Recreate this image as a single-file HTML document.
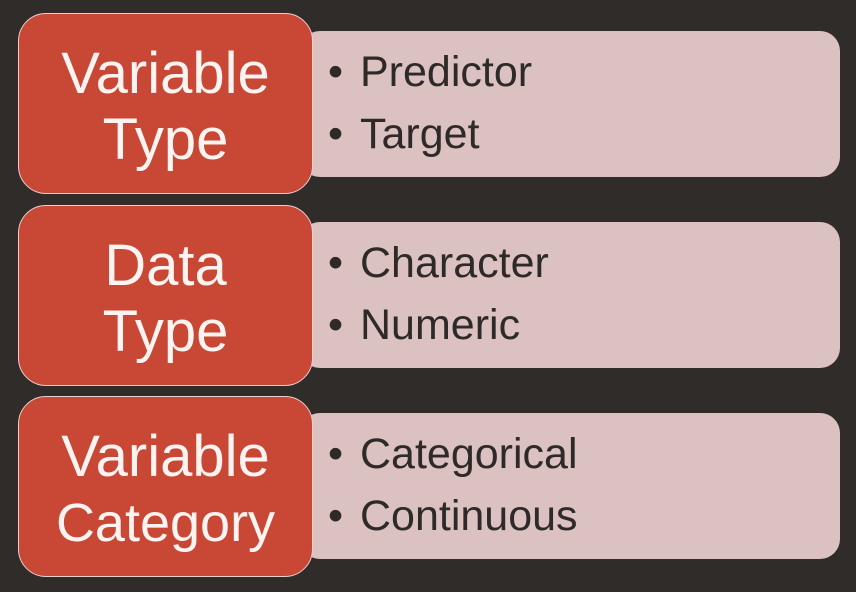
<!DOCTYPE html>
<html><head><style>
body{margin:0;width:856px;height:592px;background:#302c2a;overflow:hidden;font-family:"Liberation Sans",sans-serif;position:relative}
.r{position:absolute;left:18px;width:295px;height:181px;background:#c84735;border:1px solid #e8d0cc;border-radius:28px;box-sizing:border-box;color:#fdf3f0;font-size:58px;text-align:center;display:flex;flex-direction:column;justify-content:center;line-height:66px;z-index:2;padding-top:6px}
.p{position:absolute;left:300px;width:540px;height:146px;background:#dcc1c1;border-radius:20px;color:#2e2a28;font-size:43px;z-index:1}
.p div{position:absolute;left:28px}
.p span{display:inline-block;width:32px}
</style></head><body>
<div class="r" style="top:13px">Variable<br>Type</div>
<div class="p" style="top:31px"><div style="top:17px"><span>•</span>Predictor</div><div style="top:79px"><span>•</span>Target</div></div>
<div class="r" style="top:205px">Data<br>Type</div>
<div class="p" style="top:222px"><div style="top:17px"><span>•</span>Character</div><div style="top:79px"><span>•</span>Numeric</div></div>
<div class="r" style="top:396px">Variable<br><span style="font-size:54px">Category</span></div>
<div class="p" style="top:413px"><div style="top:17px"><span>•</span>Categorical</div><div style="top:79px"><span>•</span>Continuous</div></div>
</body></html>
